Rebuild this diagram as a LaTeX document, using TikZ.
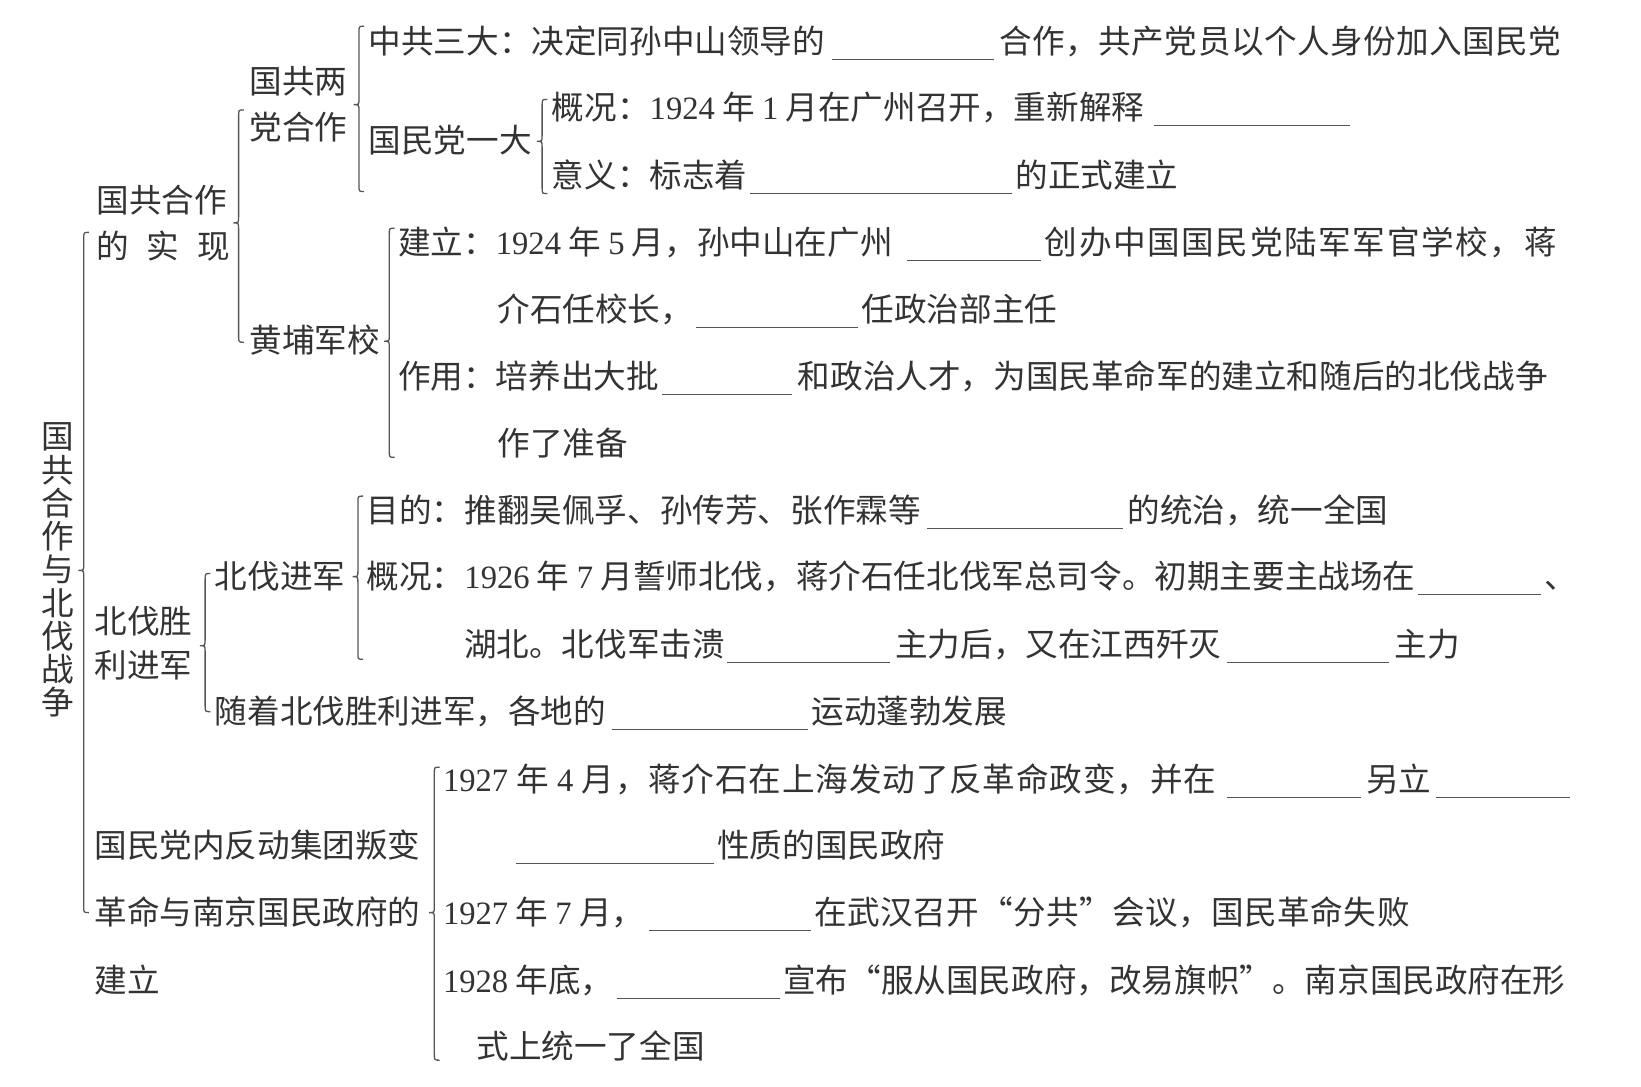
\documentclass[tikz,border=0pt]{standalone}
\usepackage{fontspec}
\newfontfamily\cjk{Noto Sans CJK SC}
\newfontfamily\numf{Liberation Serif}
\newcommand\nmb[1]{{\numf #1}}
\definecolor{ink}{HTML}{333333}
\definecolor{lineink}{HTML}{555555}
\newcommand\brc[4]{%
  \draw[brace] ({#1+5},#2) .. controls (#1,#2) .. (#1,{#2+6}) -- (#1,{#3-6})
    .. controls (#1,#3) .. ({#1-5},#3) .. controls (#1,#3) .. (#1,{#3+6})
    -- (#1,{#4-6}) .. controls (#1,#4) .. ({#1+5},#4);}
\newcommand\blank[3]{\draw[blankline] (#1,#3) -- (#2,#3);}
\begin{document}
\begin{tikzpicture}[x=0.5233pt,y=-0.5233pt,
  t/.style={anchor=base west,inner sep=0pt,text=ink,font=\cjk\fontsize{16.3}{16.3}\selectfont},
  brace/.style={draw=lineink,line width=0.65pt},
  blankline/.style={draw=lineink,line width=0.6pt}]
\useasboundingbox[fill=white] (0,0) rectangle (1568,1038);

% vertical title
\foreach \c [count=\i] in {国,共,合,作,与,北,伐,战,争}
  \node[t,name=v\i] at (39.5,{429+(\i-1)*31.75}) {\c};

% level 1
\node[t] (a1) at (92,203) {国共合作};
\node[t] (a2) at (92,247) {的};
\node[t] (a3) at (140,247) {实};
\node[t] (a4) at (188,247) {现};
\node[t] (b1) at (90,605) {北伐胜};
\node[t] (b2) at (90,647) {利进军};
\node[t] (c1) at (90,819) {国民党内反动集团叛变};
\node[t] (c2) at (90,883) {革命与南京国民政府的};
\node[t] (c3) at (90,948) {建立};

% level 2
\node[t] (a11) at (238,89) {国共两};
\node[t] (a12) at (238,133) {党合作};
\node[t] (a21) at (238,337) {黄埔军校};
\node[t] (b11) at (205,562) {北伐进军};

% 国共两党合作
\node[t] (r1a) at (352,51) {中共三大：决定同孙中山领导的};
\blank{795}{950}{57}
\node[t] (r1b) at (955,51) {\addfontfeature{LetterSpace=1.3}合作，共产党员以个人身份加入国民党};
\node[t] (r2) at (352,146) {国民党一大};
\node[t] (r2a) at (527,114) {概况：\nmb{1924} 年 \nmb{1} 月在广州召开，重新解释};
\blank{1103}{1290}{120}
\node[t] (r2b) at (527,179) {意义：标志着};
\blank{717}{967}{185}
\node[t] (r2c) at (970,179) {的正式建立};

% 黄埔军校
\node[t] (h1a) at (380,243) {建立：\nmb{1924} 年 \nmb{5} 月，孙中山在广州};
\blank{867}{995}{249}
\node[t] (h1b) at (998,243) {\addfontfeature{LetterSpace=5}创办中国国民党陆军军官学校，蒋};
\node[t] (h1c) at (475,307) {介石任校长，};
\blank{665}{820}{313}
\node[t] (h1d) at (823,307) {任政治部主任};
\node[t] (h2a) at (380,371) {作用：培养出大批};
\blank{633}{757}{377}
\node[t] (h2b) at (762,371) {和政治人才，为国民革命军的建立和随后的北伐战争};
\node[t] (h2c) at (475,435) {作了准备};

% 北伐进军
\node[t] (n1a) at (350,499) {目的：推翻吴佩孚、孙传芳、张作霖等};
\blank{886}{1073}{505}
\node[t] (n1b) at (1077,499) {的统治，统一全国};
\node[t] (n2a) at (350,562) {概况：\nmb{1926} 年 \nmb{7} 月誓师北伐，蒋介石任北伐军总司令。初期主要主战场在};
\blank{1355}{1472}{568}
\node[t] (n2b) at (1475,562) {、};
\node[t] (n2c) at (443,627) {湖北。北伐军击溃};
\blank{695}{850}{633}
\node[t] (n2d) at (855,627) {主力后，又在江西歼灭};
\blank{1172}{1327}{633}
\node[t] (n2e) at (1332,627) {主力};
\node[t] (n3a) at (205,691) {随着北伐胜利进军，各地的};
\blank{585}{772}{697}
\node[t] (n3b) at (775,691) {运动蓬勃发展};

% 国民党内反动集团叛变
\node[t] (k1a) at (423,756) {\addfontfeature{LetterSpace=2.6}\nmb{1927} 年 \nmb{4} 月，蒋介石在上海发动了反革命政变，并在};
\blank{1172}{1300}{762}
\node[t] (k1b) at (1305,756) {另立};
\blank{1372}{1500}{762}
\blank{493}{682}{825}
\node[t] (k1c) at (685,819) {性质的国民政府};
\node[t] (k2a) at (423,883) {\nmb{1927} 年 \nmb{7} 月，};
\blank{620}{775}{889}
\node[t] (k2b) at (778,883) {\addfontfeature{LetterSpace=1.5}在武汉召开“分共”会议，国民革命失败};
\node[t] (k3a) at (423,948) {\nmb{1928} 年底，};
\blank{590}{745}{954}
\node[t] (k3b) at (748,948) {宣布“服从国民政府，改易旗帜”。南京国民政府在形};
\node[t] (k3c) at (455,1011) {式上统一了全国};

% braces
\brc{80}{222}{545}{872}
\brc{228}{105}{213}{327}
\brc{343}{25}{100}{183}
\brc{518}{95}{135}{185}
\brc{372}{218}{326}{437}
\brc{196}{548}{617}{680}
\brc{342}{474}{551}{630}
\brc{415}{733}{872}{1013}
\end{tikzpicture}
\end{document}
